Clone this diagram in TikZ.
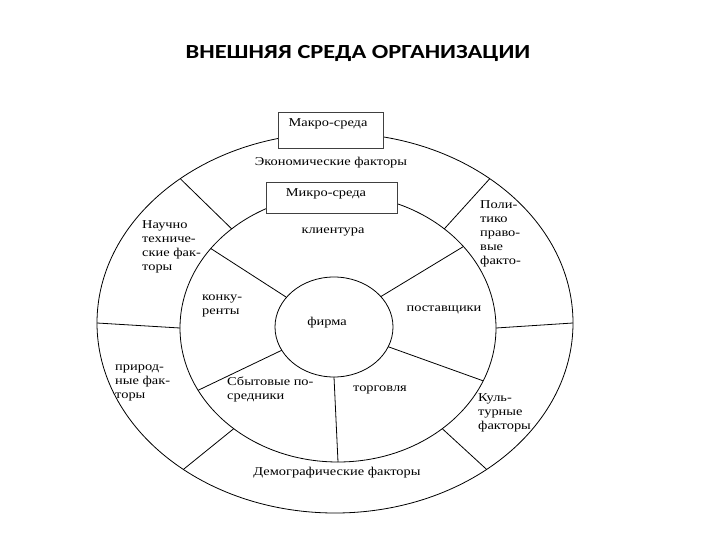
\documentclass[tikz,border=0pt]{standalone}
\usepackage{fontspec}
\setmainfont{Liberation Serif}
\newfontfamily\wideserif[FakeStretch=1.2]{Liberation Serif}
\newfontfamily\titlefont[FakeStretch=1.22]{Carlito}
\usetikzlibrary{shapes.geometric}
\begin{document}
\begin{tikzpicture}[x=1pt,y=-1pt,
  ring/.style={ellipse, draw, line width=0.8pt, inner sep=0pt, outer sep=0pt},
  divider/.style={line width=0.8pt},
  frame/.style={draw=black!75, line width=0.7pt, fill=white, inner sep=0pt, outer sep=0pt},
  lbl/.style={font=\wideserif\fontsize{12}{14}\selectfont, inner sep=0pt},
  blk/.style={lbl, align=left, anchor=west}]
\useasboundingbox (0,0) rectangle (720,540);
\node[font=\titlefont\bfseries\fontsize{20}{22}\selectfont] (title) at (358,53) {ВНЕШНЯЯ СРЕДА ОРГАНИЗАЦИИ};

\node[ring, minimum width=476pt, minimum height=380pt] (outer) at (335,323) {};
\node[ring, minimum width=316pt, minimum height=268pt] (middle) at (338,328) {};
\node[ring, minimum width=118pt, minimum height=100pt] (inner) at (334,327) {};

% outer ring dividers
\foreach \a in {137,180,224,316,0,43}
  \draw[divider] (middle.\a) -- (outer.\a);
% inner ring dividers
\foreach \a in {148.5,33,340,270,204}
  \draw[divider] (inner.\a) -- (middle.\a);

% boxes
\node[frame, minimum width=105pt, minimum height=36pt] (macrobox) at (330.5,130) {};
\node[lbl] (macro) at (328,124) {Макро-среда};
\node[frame, minimum width=131pt, minimum height=31pt] (microbox) at (331.5,197.5) {};
\node[lbl] (micro) at (326,194) {Микро-среда};

% outer ring labels
\node[lbl] (econ) at (331,163) {Экономические факторы};
\node[lbl] (demo) at (337,473) {Демографические факторы};
\node[blk] (polit) at (480,234) {Поли-\\тико\\право-\\вые\\факто-};
\node[blk] (cult) at (478,412.5) {Куль-\\турные\\факторы};
\node[blk] (nat) at (115,383) {природ-\\ные фак-\\торы};
\node[blk] (sci) at (142,246.5) {Научно\\техниче-\\ские фак-\\торы};

% inner ring labels
\node[lbl] (client) at (333,232) {клиентура};
\node[lbl] (supp) at (444,310) {поставщики};
\node[lbl] (trade) at (380,390) {торговля};
\node[blk] (sales) at (227,389.5) {Сбытовые по-\\средники};
\node[blk] (comp) at (202,305.5) {конку-\\ренты};
\node[lbl] (firm) at (327,323) {фирма};
\end{tikzpicture}
\end{document}
